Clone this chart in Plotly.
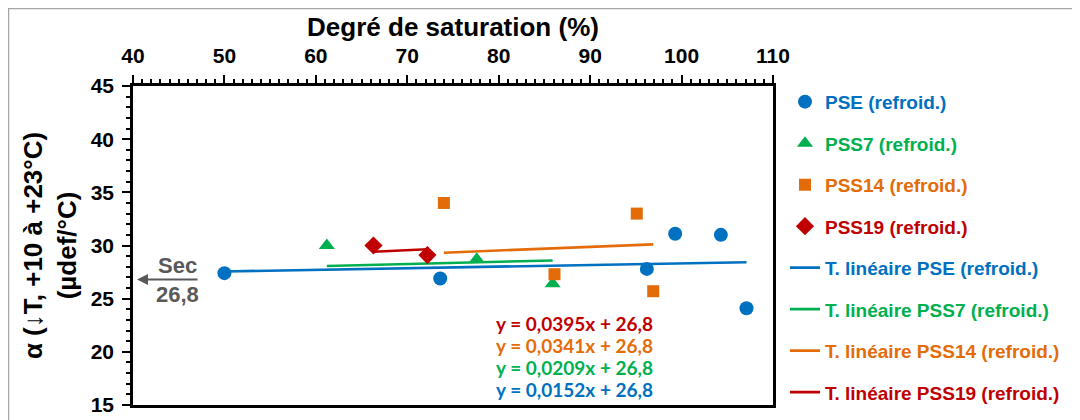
import plotly.graph_objects as go

# ---- data ----
pse_x = [50.0, 73.6, 96.2, 99.3, 104.3, 107.1]
pse_y = [27.4, 26.9, 27.8, 31.1, 31.0, 24.1]
pss7_x = [61.2, 77.6, 85.9]
pss7_y = [30.0, 28.7, 26.4]
pss14_x = [74.0, 86.1, 95.1, 96.9]
pss14_y = [34.0, 27.3, 33.0, 25.7]
pss19_x = [66.3, 72.2]
pss19_y = [30.0, 29.1]

series_names = ["PSE", "PSS7", "PSS14", "PSS19"]
slopes = [0.0152, 0.0209, 0.0341, 0.0395]
intercept = 26.8
eq_labels = ["y = 0,0152x + 26,8", "y = 0,0209x + 26,8",
             "y = 0,0341x + 26,8", "y = 0,0395x + 26,8"]
dry_value = 26.8
dry_label = "26,8"

x_ticks = [40, 50, 60, 70, 80, 90, 100, 110]
y_ticks = [15, 20, 25, 30, 35, 40, 45]

colors = ["#0070C0", "#00B050", "#E36C09", "#C00000"]
symbols = ["circle", "triangle-up", "square", "diamond"]
msizes = [14, 14, 12, 14]
xs = [pse_x, pss7_x, pss14_x, pss19_x]
ys = [pse_y, pss7_y, pss14_y, pss19_y]

FONT = "Liberation Sans, Arial, sans-serif"

fig = go.Figure()

# trend lines
for i, name in enumerate(series_names):
    x0, x1 = min(xs[i]), max(xs[i])
    fig.add_trace(go.Scatter(
        x=[x0, x1], y=[slopes[i] * x0 + intercept, slopes[i] * x1 + intercept],
        mode="lines", line=dict(color=colors[i], width=2.6),
        name=f"<span style='color:{colors[i]}'>T. linéaire {name} (refroid.)</span>",
        legendgroup=f"t{i}", legendrank=10 + i, hoverinfo="skip"))

# markers
for i, name in enumerate(series_names):
    fig.add_trace(go.Scatter(
        x=xs[i], y=ys[i], mode="markers",
        marker=dict(color=colors[i], symbol=symbols[i], size=msizes[i]),
        name=f"<span style='color:{colors[i]}'>{name} (refroid.)</span>",
        legendgroup=f"m{i}", legendrank=i))

# equations
eq_y = [16.5, 18.57, 20.64, 22.71]
for i in range(4):
    fig.add_annotation(x=97.1, y=eq_y[i], xref="x", yref="y", text=eq_labels[i],
                       showarrow=False, xanchor="right", yanchor="middle",
                       font=dict(family="Lato, Open Sans, sans-serif", size=19,
                                 color=colors[i], weight="bold"))

# "Sec" arrow annotation
GRAY = "#595959"
fig.add_annotation(x=0.0, y=dry_value, xref="paper", yref="y", ax=66, ay=0,
                   text="", showarrow=True, arrowhead=2, arrowsize=1.1,
                   arrowwidth=2, arrowcolor=GRAY, standoff=4)
fig.add_annotation(x=0.069, y=dry_value, xref="paper", yref="y", text="Sec",
                   showarrow=False, xanchor="center", yanchor="bottom", yshift=0,
                   font=dict(family=FONT, size=22, color=GRAY, weight="bold"))
fig.add_annotation(x=0.069, y=dry_value, xref="paper", yref="y", text=dry_label,
                   showarrow=False, xanchor="center", yanchor="top", yshift=0,
                   font=dict(family=FONT, size=22, color=GRAY, weight="bold"))

# outer frame
fig.add_shape(type="rect", xref="paper", yref="paper", x0=-0.1945, x1=1.5,
              y0=-0.5, y1=1.243, line=dict(color="#A6A6A6", width=1.5),
              layer="below")

axis_common = dict(showgrid=False, zeroline=False, showline=True, linecolor="black",
                   linewidth=2.5, mirror=True, ticks="outside", tickcolor="black",
                   tickwidth=2, ticklen=8, automargin=False,
                   tickfont=dict(family=FONT, size=21, color="black", weight="bold"),
                   minor=dict(ticks="outside", ticklen=4, tickwidth=1.5,
                              tickcolor="black", dtick=1, showgrid=False))

fig.update_layout(
    width=1072, height=412,
    margin=dict(l=125, r=307, t=78, b=15),
    paper_bgcolor="white", plot_bgcolor="white",
    font=dict(family=FONT, color="black"),
    xaxis=dict(range=[40, 110], tickvals=x_ticks, side="top", ticklabelstandoff=4,
               title=dict(text="Degré de saturation (%)", standoff=0,
                          font=dict(family=FONT, size=26, color="black", weight="bold")),
               **axis_common),
    yaxis=dict(range=[15, 45], tickvals=y_ticks, ticklabelstandoff=4,
               title=dict(text="α (↓T, +10 à +23°C)<br>(µdef/°C)", standoff=7,
                          font=dict(family=FONT, size=26, color="black", weight="bold")),
               **axis_common),
    legend=dict(x=1.01875, y=1.01, xanchor="left", yanchor="top",
                font=dict(family=FONT, size=19, weight="bold"), maxheight=400,
                tracegroupgap=13.8, itemwidth=30, bgcolor="rgba(0,0,0,0)"),
    showlegend=True,
)

fig.write_html("out.html")
